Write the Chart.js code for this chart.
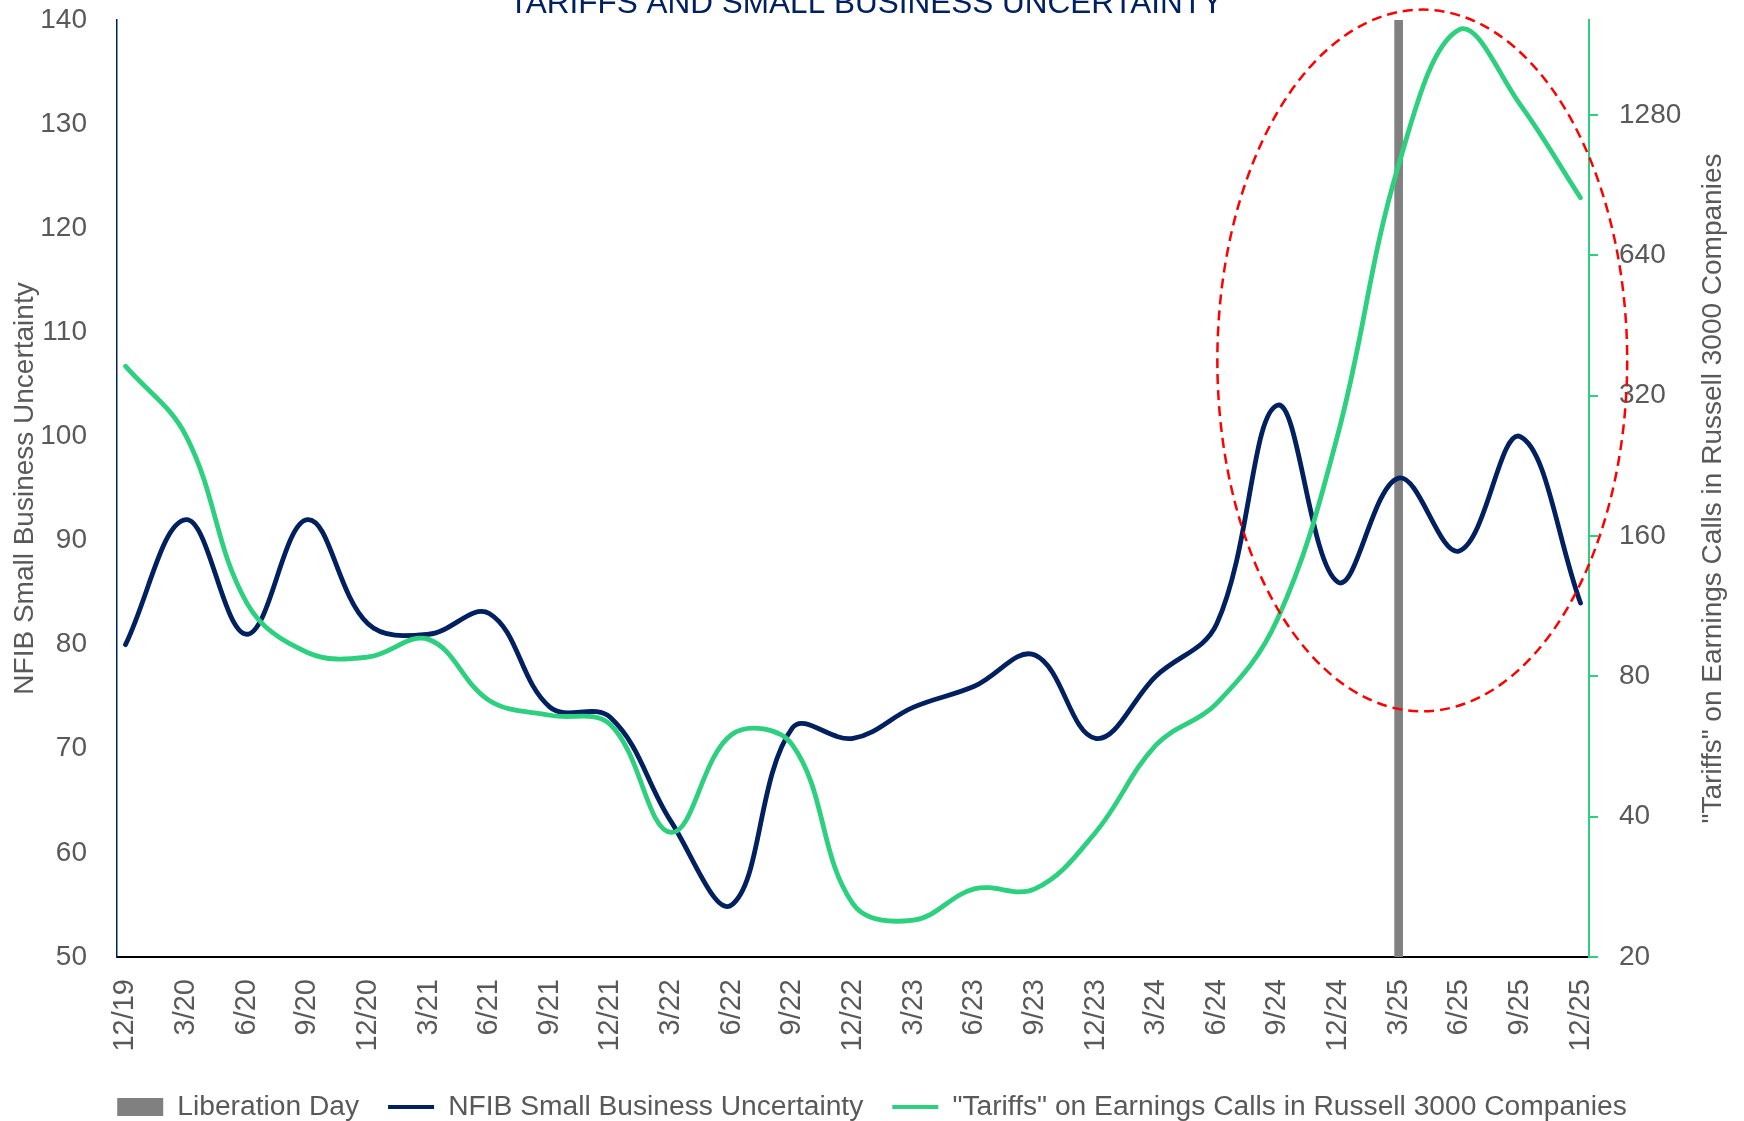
<!DOCTYPE html>
<html>
<head>
<meta charset="utf-8">
<script src="https://cdn.jsdelivr.net/npm/chart.js@4.4.1/dist/chart.umd.min.js"></script>
<style>
  html, body { margin: 0; padding: 0; background: #ffffff; }
  #wrap { width: 1744px; height: 1121px; position: relative; }
</style>
</head>
<body>
<div id="wrap"><canvas id="c"></canvas></div>
<script>
// ---------- DATA ----------
const categories = ['12/19','3/20','6/20','9/20','12/20','3/21','6/21','9/21','12/21','3/22','6/22','9/22',
                    '12/22','3/23','6/23','9/23','12/23','3/24','6/24','9/24','12/24','3/25','6/25','9/25','12/25'];
const nfibUncertainty = [80, 92, 81, 92, 82, 81, 83, 74, 73, 63, 55, 72,
                         71, 74, 76, 79, 71, 77, 82, 103, 86, 96, 89, 100, 84];
const tariffMentions = [370, 262, 115, 90, 88, 96, 71, 66, 63, 37, 60, 57,
                        26, 24, 28, 28, 37, 57, 70, 106, 265, 1000, 1950, 1350, 850];
const liberationDay = '3/25';
const leftTicks = [50, 60, 70, 80, 90, 100, 110, 120, 130, 140];
const rightTicks = [20, 40, 80, 160, 320, 640, 1280];
const rightMax = 2045;

const titleText = 'TARIFFS AND SMALL BUSINESS UNCERTAINTY';
const leftTitle = 'NFIB Small Business Uncertainty';
const rightTitle = '"Tariffs" on Earnings Calls in Russell 3000 Companies';
const seriesLabels = ['Liberation Day', 'NFIB Small Business Uncertainty', '"Tariffs" on Earnings Calls in Russell 3000 Companies'];

// ---------- STYLE ----------
const FONT = "'Liberation Sans', Arial, sans-serif";
const NAVY = '#002060';
const GREEN = '#2dd07f';
const GREY_TEXT = '#595959';
const BAR_GREY = '#808080';

// highlight ellipse (in data units of x / left y axis)
const highlight = { cx: 21.39, cy: 107.3, rx: 3.38, ry: 33.7 };

const leftMin = leftTicks[0], leftMax = leftTicks[leftTicks.length - 1];

const titlePlugin = {
  id: 'customTexts',
  afterInit(chart) {
    const lg = chart.legend;
    if (lg && !lg._patched) {
      const f = lg.fit;
      lg.fit = function () { f.call(this); this.height = 57; };
      lg._patched = true;
    }
  },
  afterDraw(chart) {
    const ctx = chart.ctx;
    ctx.save();
    ctx.fillStyle = NAVY;
    ctx.font = "31.5px " + FONT;
    ctx.textAlign = 'center';
    ctx.textBaseline = 'alphabetic';
    ctx.fillText(titleText, 866, 13);
    // right axis title, reading bottom to top
    const ca = chart.chartArea;
    ctx.translate(1713, (ca.top + ca.bottom) / 2);
    ctx.rotate(-Math.PI / 2);
    ctx.fillStyle = GREY_TEXT;
    ctx.font = "28px " + FONT;
    ctx.textAlign = 'center';
    ctx.textBaseline = 'middle';
    ctx.fillText(rightTitle, 0, 0);
    ctx.restore();
  }
};

const ellipsePlugin = {
  id: 'highlightEllipse',
  afterDatasetsDraw(chart) {
    const xs = chart.scales.x, ys = chart.scales.y;
    const cx = xs.getPixelForValue(highlight.cx);
    const rx = xs.getPixelForValue(highlight.cx + highlight.rx) - cx;
    const cy = ys.getPixelForValue(highlight.cy);
    const ry = cy - ys.getPixelForValue(highlight.cy + highlight.ry);
    const ctx = chart.ctx;
    ctx.save();
    ctx.beginPath();
    ctx.ellipse(cx, cy, rx, ry, 0, 0, Math.PI * 2);
    ctx.setLineDash([10, 6]);
    ctx.lineWidth = 2.5;
    ctx.strokeStyle = '#ff0000';
    ctx.stroke();
    ctx.restore();
  }
};

const libIndex = categories.indexOf(liberationDay);
const noVPad = (scale) => { scale.paddingTop = 0; scale.paddingBottom = 0; };

new Chart(document.getElementById('c'), {
  type: 'line',
  data: {
    datasets: [
      {
        type: 'bar',
        label: seriesLabels[0],
        data: [{ x: libIndex, y: leftMax }],
        yAxisID: 'y',
        backgroundColor: BAR_GREY,
        borderWidth: 0,
        barThickness: 8,
        order: 3
      },
      {
        label: seriesLabels[1],
        data: nfibUncertainty.map((v, i) => ({ x: i, y: v })),
        yAxisID: 'y',
        borderColor: NAVY,
        backgroundColor: NAVY,
        borderWidth: 4.8,
        pointRadius: 0,
        tension: 0.38,
        borderCapStyle: 'round',
        order: 2
      },
      {
        label: seriesLabels[2],
        data: tariffMentions.map((v, i) => ({ x: i, y: v })),
        yAxisID: 'y2',
        borderColor: GREEN,
        backgroundColor: GREEN,
        borderWidth: 4.8,
        pointRadius: 0,
        tension: 0.38,
        borderCapStyle: 'round',
        order: 1
      }
    ]
  },
  options: {
    responsive: true,
    maintainAspectRatio: false,
    animation: false,
    devicePixelRatio: 1,
    layout: { padding: { top: 20, left: 0, right: 0, bottom: 0 } },
    plugins: {
      tooltip: { enabled: false },
      title: { display: false },
      legend: {
        position: 'bottom',
        labels: {
          font: { size: 28.2, family: FONT },
          color: GREY_TEXT,
          padding: 29,
          usePointStyle: true,
          pointStyleWidth: 46,
          boxHeight: 18,
          generateLabels(chart) {
            return chart.data.datasets.map((ds, i) => {
              const isBar = ds.type === 'bar';
              const col = isBar ? ds.backgroundColor : ds.borderColor;
              return {
                text: ds.label,
                fillStyle: col,
                strokeStyle: col,
                lineWidth: isBar ? 0 : 4,
                pointStyle: isBar ? 'rect' : 'line',
                lineCap: 'butt',
                hidden: false,
                datasetIndex: i,
                fontColor: GREY_TEXT
              };
            });
          }
        }
      }
    },
    scales: {
      x: {
        type: 'linear',
        position: 'bottom',
        offset: false,
        min: -0.14,
        max: categories.length - 1 + 0.14,
        afterBuildTicks(scale) {
          scale.ticks = categories.map((c, i) => ({ value: i }));
        },
        afterFit(scale) { scale.height = 107; },
        ticks: {
          autoSkip: false,
          minRotation: 90,
          maxRotation: 90,
          padding: 22,
          color: GREY_TEXT,
          font: { size: 29, family: FONT },
          callback: (v) => categories[v]
        },
        grid: { display: false, drawTicks: false, offset: false },
        border: { display: true, color: '#000000', width: 2 }
      },
      y: {
        type: 'linear',
        position: 'left',
        min: leftMin,
        max: leftMax,
        afterBuildTicks(scale) {
          scale.ticks = leftTicks.map(v => ({ value: v }));
        },
        afterFit(scale) { scale.width = 117; noVPad(scale); },
        ticks: {
          padding: 30,
          color: GREY_TEXT,
          font: { size: 28, family: FONT }
        },
        grid: { display: false, drawTicks: false },
        border: { display: true, color: NAVY, width: 1.5 },
        title: {
          display: true,
          text: leftTitle,
          color: GREY_TEXT,
          font: { size: 28, family: FONT },
          padding: { top: 8, bottom: 0 }
        }
      },
      y2: {
        type: 'logarithmic',
        position: 'right',
        min: rightTicks[0],
        max: rightMax,
        afterBuildTicks(scale) {
          scale.ticks = rightTicks.map(v => ({ value: v }));
        },
        afterFit(scale) { scale.width = 155; noVPad(scale); },
        ticks: {
          padding: 21,
          color: GREY_TEXT,
          font: { size: 28, family: FONT },
          callback: (v) => String(v)
        },
        grid: { display: true, drawOnChartArea: false, drawTicks: true, tickLength: 9, color: GREEN, lineWidth: 2 },
        border: { display: true, color: GREEN, width: 2 }
      }
    }
  },
  plugins: [ellipsePlugin, titlePlugin]
});
</script>
</body>
</html>
